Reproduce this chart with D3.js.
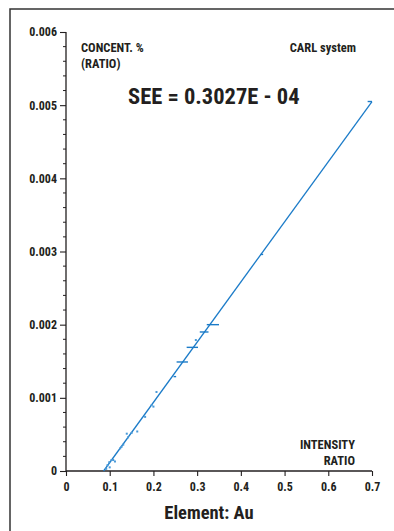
<!DOCTYPE html>
<html><head><meta charset="utf-8">
<script src="https://cdn.jsdelivr.net/npm/d3@7"></script>
<style>
html,body{margin:0;padding:0;background:#fff;}
svg{display:block;}
text{font-family:"Liberation Sans Narrow","Roboto Condensed","Arial Narrow",sans-serif;font-weight:bold;fill:#231f20;}
</style></head>
<body><svg id="c" width="394" height="531"></svg>
<script>
// ---- data ----
const xTicks = [0, 0.1, 0.2, 0.3, 0.4, 0.5, 0.6, 0.7];
const xTickLabels = ["0", "0.1", "0.2", "0.3", "0.4", "0.5", "0.6", "0.7"];
const yTicks = [0, 0.001, 0.002, 0.003, 0.004, 0.005, 0.006];
const yTickLabels = ["0", "0.001", "0.002", "0.003", "0.004", "0.005", "0.006"];
const fitX = [0.086, 0.7];
const fitY = [0, 0.00505];
const pointX = [0.092, 0.095, 0.099, 0.100, 0.104, 0.108, 0.112, 0.124, 0.127, 0.131, 0.139, 0.142, 0.150, 0.163, 0.181, 0.196, 0.200, 0.207, 0.297];
const pointY = [0.00003, 0.00008, 0.00012, 0.00005, 0.00015, 0.00015, 0.00013, 0.00031, 0.00033, 0.00036, 0.00051, 0.00046, 0.00052, 0.00054, 0.00074, 0.0009, 0.00088, 0.00108, 0.00179];
const barX = [0.266, 0.289, 0.316, 0.336, 0.249, 0.448, 0.695];
const barY = [0.00149, 0.00169, 0.0019, 0.002, 0.00129, 0.00296, 0.00505];
const barHalf = [0.013, 0.013, 0.010, 0.014, 0.003, 0.003, 0.005];

const svg = d3.select("#c");
const blue = "#1b7bc8";
const ink = "#231f20";

// frame
svg.append("rect").attr("x", 10).attr("y", 9).attr("width", 400).attr("height", 540)
  .attr("fill", "none").attr("stroke", "#333").attr("stroke-width", 1.5);

const x = d3.scaleLinear().domain([0, 0.7]).range([66, 372]);
const y = d3.scaleLinear().domain([0, 0.006]).range([471, 32]);

// y axis
const yAxis = d3.axisLeft(y).tickValues(yTicks).tickFormat((d, i) => yTickLabels[i]).tickSize(6).tickPadding(3);
const gy = svg.append("g").attr("transform", "translate(66,0)").call(yAxis);
gy.select(".domain").attr("stroke", ink).attr("stroke-width", 1.3).attr("d", `M0,${y(0)}V${y(0.006)}`);
gy.selectAll(".tick line").attr("stroke", ink).attr("stroke-width", 1.1);
gy.selectAll(".tick text").style("font-size", "12px").attr("fill", ink);
const yMinor = d3.range(0, 0.00601, 0.0002).filter(v => Math.abs(v * 1000 - Math.round(v * 1000)) > 1e-6);
gy.selectAll(".minor").data(yMinor).enter().append("line")
  .attr("x1", -3).attr("x2", 0).attr("y1", d => y(d)).attr("y2", d => y(d))
  .attr("stroke", ink).attr("stroke-width", 1);

// x axis
const xAxis = d3.axisBottom(x).tickValues(xTicks).tickFormat((d, i) => xTickLabels[i]).tickSize(5).tickPadding(6);
const gx = svg.append("g").attr("transform", "translate(0,471)").call(xAxis);
gx.select(".domain").attr("stroke", ink).attr("stroke-width", 1.3).attr("d", `M${x(0)},0H${x(0.7)}`);
gx.selectAll(".tick line").attr("stroke", ink).attr("stroke-width", 1.1);
gx.selectAll(".tick text").style("font-size", "12px").attr("fill", ink);

// fit line
svg.append("line")
  .attr("x1", x(fitX[0])).attr("y1", y(fitY[0]))
  .attr("x2", x(fitX[1])).attr("y2", y(fitY[1]))
  .attr("stroke", blue).attr("stroke-width", 1.3);

// points
svg.selectAll(".pt").data(pointX).enter().append("rect")
  .attr("x", (d) => x(d) - 1).attr("y", (d, i) => y(pointY[i]) - 1)
  .attr("width", 2).attr("height", 2).attr("fill", "#4a9ad8");

// horizontal bars
svg.selectAll(".bar").data(barX).enter().append("line")
  .attr("x1", (d, i) => x(d - barHalf[i])).attr("x2", (d, i) => x(d + barHalf[i]))
  .attr("y1", (d, i) => y(barY[i])).attr("y2", (d, i) => y(barY[i]))
  .attr("stroke", blue).attr("stroke-width", 1.4);

// annotations
svg.append("text").attr("x", 81).attr("y", 52).style("font-size", "12.5px").text("CONCENT. %");
svg.append("text").attr("x", 81).attr("y", 68).style("font-size", "12.5px").text("(RATIO)");
svg.append("text").attr("x", 356).attr("y", 52).attr("text-anchor", "end").style("font-size", "12.5px").text("CARL system");
svg.append("text").attr("x", 128).attr("y", 104).style("font-size", "22.5px").text("SEE = 0.3027E - 04");
svg.append("text").attr("x", 355).attr("y", 449).attr("text-anchor", "end").style("font-size", "12.5px").text("INTENSITY");
svg.append("text").attr("x", 355).attr("y", 465).attr("text-anchor", "end").style("font-size", "12.5px").text("RATIO");
svg.append("text").attr("x", 209).attr("y", 519).attr("text-anchor", "middle").style("font-size", "18.5px").text("Element: Au");
</script></body></html>
